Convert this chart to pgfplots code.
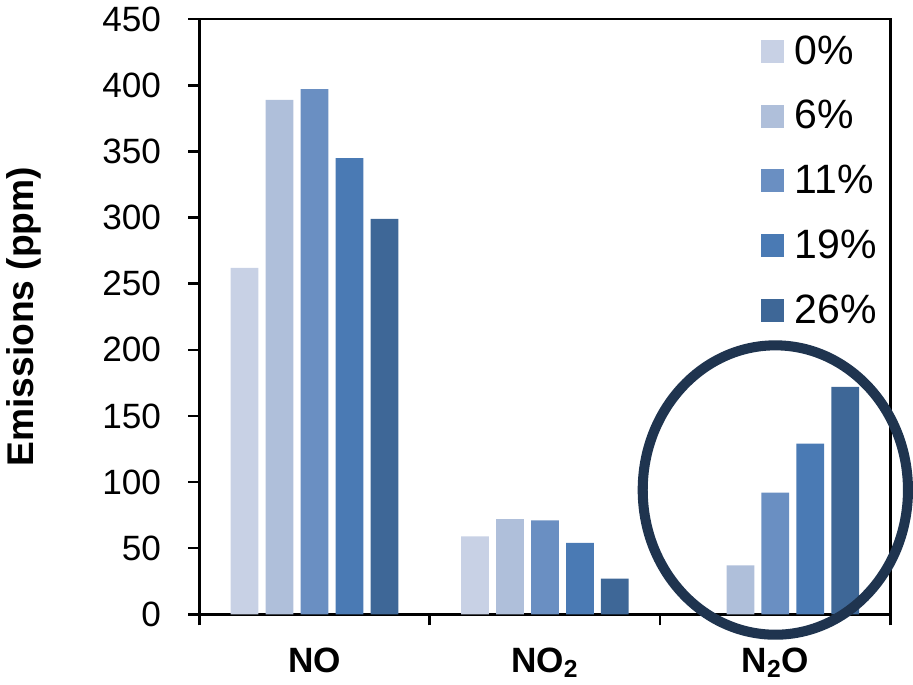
\documentclass[border=0pt]{standalone}
\usepackage{pgfplots}
\pgfplotsset{compat=1.18}
\usepackage{fontspec}
\setmainfont{Liberation Sans}
\definecolor{c0}{HTML}{C8D1E5}
\definecolor{c1}{HTML}{AFBFDA}
\definecolor{c2}{HTML}{6A8FC2}
\definecolor{c3}{HTML}{4A7AB4}
\definecolor{c4}{HTML}{3E6797}
\definecolor{ring}{HTML}{1F344F}
\begin{document}
\begin{tikzpicture}
\begin{axis}[
  scale only axis,
  width=344pt, height=296.2pt,
  ybar=3.6pt, bar width=13.8pt,
  xmin=-0.5, xmax=2.5,
  ymin=0, ymax=450,
  ytick={0,50,...,450},
  xtick={0,1,2},
  xticklabels={\textbf{NO},\textbf{NO\textsubscript{2}},\textbf{N\textsubscript{2}O}},
  minor xtick={-0.5,0.5,1.5,2.5},
  major x tick style={draw=none},
  minor x tick style={black, line width=1.25pt},
  y tick style={black, line width=1.25pt},
  tick align=outside,
  major tick length=5.5pt, minor tick length=5.5pt,
  xtick pos=bottom, ytick pos=left,
  axis line style={black, line width=1.25pt},
  /pgf/number format/assume math mode=true,
  yticklabel style={font=\fontsize{17.5}{20}\selectfont, xshift=-10pt},
  xticklabel style={font=\fontsize{17.5}{20}\selectfont, yshift=-7.5pt},
  ylabel={\textbf{Emissions (ppm)}},
  ylabel style={font=\fontsize{18.5}{20}\selectfont, yshift=23.5pt},
  legend style={draw=none, fill=none, at={(0.8125,0.98)}, anchor=north west,
    inner sep=0pt,
    font=\fontsize{20.4}{22}\selectfont, row sep=12.5pt,
    legend cell align=left,
    /tikz/every odd column/.append style={column sep=3pt}},
  legend image code/.code={\fill[#1] (0pt,-5.75pt) rectangle (11.5pt,5.75pt);},
  clip=false,
]
\addplot[fill=c0, draw=none] coordinates {(0,262) (1,59)};
\addplot[fill=c1, draw=none] coordinates {(0,389) (1,72) (2,37)};
\addplot[fill=c2, draw=none] coordinates {(0,397) (1,71) (2,92)};
\addplot[fill=c3, draw=none] coordinates {(0,345) (1,54) (2,129)};
\addplot[fill=c4, draw=none] coordinates {(0,299) (1,27) (2,172)};
\legend{0\%,6\%,11\%,19\%,26\%}
\draw[ring, line width=5pt] (axis cs:2,94) ellipse [x radius=66pt, y radius=72pt];
\end{axis}
\end{tikzpicture}
\end{document}
